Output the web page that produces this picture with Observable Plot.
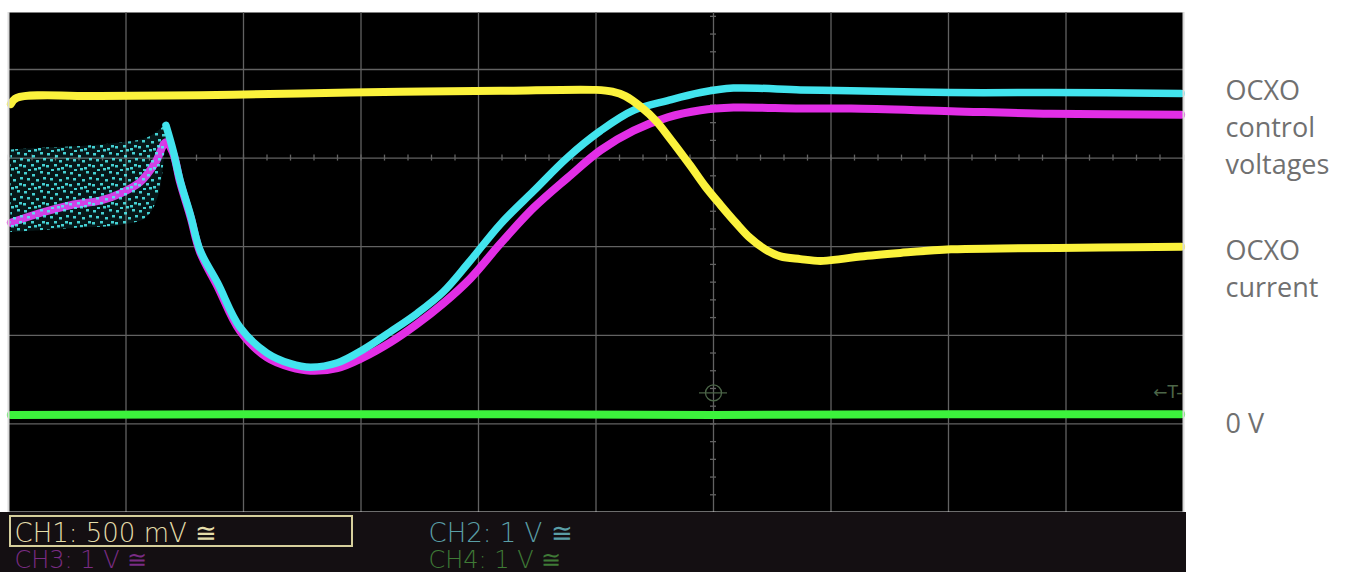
<!DOCTYPE html>
<html>
<head>
<meta charset="utf-8">
<script src="https://cdn.jsdelivr.net/npm/d3@7"></script>
<script src="https://cdn.jsdelivr.net/npm/@observablehq/plot@0.6"></script>
<style>
  html, body { margin: 0; padding: 0; background: #fff; }
  #chart svg { display: block; }
</style>
</head>
<body>
<div id="chart"></div>
<script>
// ---- Data (x in horizontal divisions, y in vertical divisions from the bottom of the screen) ----
const ch1Time  = [0.02, 0.07, 0.78, 1.63, 2.48, 3.34, 4.19, 5.00, 5.14, 5.25, 5.38, 5.51, 5.63, 5.80, 5.93, 6.06, 6.19, 6.31, 6.44, 6.57, 6.74, 6.91, 7.08, 7.25, 7.59, 8.02, 8.44, 9.29, 9.98];
const ch1Level = [4.61, 4.68, 4.70, 4.71, 4.73, 4.75, 4.76, 4.77, 4.75, 4.70, 4.58, 4.42, 4.22, 3.92, 3.68, 3.47, 3.27, 3.10, 2.97, 2.89, 2.86, 2.84, 2.86, 2.89, 2.93, 2.97, 2.98, 2.99, 3.00];

// CH2 (cyan): noisy band before the peak
const ch2NoiseTime  = [0.02, 0.27, 0.61, 0.95, 1.17, 1.28, 1.34];
const ch2NoiseLow   = [3.16, 3.18, 3.21, 3.24, 3.32, 3.58, 4.26];
const ch2NoiseHigh  = [4.09, 4.11, 4.13, 4.17, 4.22, 4.31, 4.37];
// CH2 (cyan): trace after the peak
const ch2Time  = [1.34, 1.40, 1.46, 1.55, 1.63, 1.78, 1.97, 2.20, 2.40, 2.57, 2.80, 3.02, 3.25, 3.48, 3.70, 3.91, 4.19, 4.47, 4.76, 5.04, 5.32, 5.61, 5.89, 6.17, 6.74, 7.17, 8.02, 8.87, 9.98];
const ch2Level = [4.37, 4.09, 3.75, 3.35, 2.96, 2.59, 2.09, 1.80, 1.68, 1.64, 1.69, 1.84, 2.04, 2.25, 2.49, 2.81, 3.26, 3.63, 4.01, 4.31, 4.54, 4.65, 4.74, 4.79, 4.77, 4.76, 4.74, 4.74, 4.73];

// CH3 (magenta)
const ch3Time  = [0.02, 0.27, 0.53, 0.78, 0.95, 1.12, 1.25, 1.34, 1.40, 1.46, 1.55, 1.63, 1.78, 1.97, 2.20, 2.40, 2.57, 2.80, 3.02, 3.25, 3.48, 3.70, 3.93, 4.19, 4.47, 4.76, 5.04, 5.32, 5.61, 5.89, 6.17, 6.74, 7.17, 8.02, 8.87, 9.98];
const ch3Level = [3.27, 3.38, 3.47, 3.52, 3.60, 3.73, 3.95, 4.18, 4.06, 3.73, 3.33, 2.94, 2.55, 2.05, 1.75, 1.64, 1.60, 1.63, 1.75, 1.92, 2.13, 2.36, 2.64, 3.04, 3.44, 3.78, 4.09, 4.31, 4.46, 4.54, 4.57, 4.56, 4.56, 4.53, 4.50, 4.49];

// CH4 (green): 0 V reference
const ch4Time  = [0.02, 2.0, 4.0, 6.0, 8.0, 9.98];
const ch4Level = [1.10, 1.11, 1.11, 1.10, 1.11, 1.11];

const triggerTime = 6;
const triggerLevel = 1.35;

// Screen graticule
const gridX = [1, 2, 3, 4, 5, 6, 7, 8, 9];
const gridY = [1, 2, 3, 4, 5];
const centerX = 6;
const centerY = 4;

// Text
const sideLabels = ["OCXO\ncontrol\nvoltages", "OCXO\ncurrent", "0 V"];
const channelLabels = ["CH1: 500 mV ≅", "CH2: 1 V ≅", "CH3: 1 V ≅", "CH4: 1 V ≅"];

// ---- Build ----
const pts = (xs, ys) => xs.map((x, i) => ({x, y: ys[i]}));
const ch1 = pts(ch1Time, ch1Level);
const ch2 = pts(ch2Time, ch2Level);
const ch3 = pts(ch3Time, ch3Level);
const ch4 = pts(ch4Time, ch4Level);
const ch2Noise = ch2NoiseTime.map((x, i) => ({x, lo: ch2NoiseLow[i], hi: ch2NoiseHigh[i]}));
const minorX = d3.range(0, 10.001, 0.2);
const minorY = d3.range(0, 5.64, 0.2);

const grid = "#626262";
const dim = "#4c6648";

// speckle pattern used to render the noisy (sampled) part of CH2
function speckleDefs() {
  const defs = d3.create("svg:defs");
  const p = defs.append("pattern")
    .attr("id", "ch2speckle")
    .attr("patternUnits", "userSpaceOnUse")
    .attr("width", 23).attr("height", 19);
  const cells = [[1,1],[9,3],[17,0],[4,7],[13,8],[20,6],[0,13],[8,12],[15,15],[19,12],[5,17],[11,16]];
  for (const [cx, cy] of cells) {
    p.append("rect").attr("x", cx).attr("y", cy).attr("width", 3).attr("height", 2.5).attr("fill", "#4ff0f2");
  }
  return defs.node();
}

function bottomStrip(index, scales, values, dims) {
  const g = d3.create("svg:g");
  const top = dims.height - dims.marginBottom;
  g.append("rect")
    .attr("x", 0).attr("y", top)
    .attr("width", dims.width - dims.marginRight + 3)
    .attr("height", dims.marginBottom)
    .attr("fill", "#140f12");
  g.append("rect")
    .attr("x", dims.marginLeft + 2).attr("y", top + 4)
    .attr("width", 342).attr("height", 30)
    .attr("fill", "none")
    .attr("stroke", "#d6cf9c")
    .attr("stroke-width", 2);
  return g.node();
}

const chart = Plot.plot({
  width: 1351,
  height: 572,
  marginLeft: 8,
  marginRight: 168,
  marginTop: 12,
  marginBottom: 60,
  x: {domain: [0, 10], axis: null},
  y: {domain: [0, 500 / 88.6], axis: null},
  style: {background: "#fff", overflow: "hidden"},
  marks: [
    speckleDefs,
    Plot.frame({fill: "#000", stroke: "none"}),
    Plot.ruleX(gridX, {stroke: grid, strokeWidth: 1.3}),
    Plot.ruleY(gridY, {stroke: grid, strokeWidth: 1.3}),
    Plot.ruleX(minorX, {y1: centerY, y2: centerY, insetTop: -3, insetBottom: -3, stroke: grid, strokeWidth: 1.3}),
    Plot.ruleY(minorY, {x1: centerX, x2: centerX, insetLeft: -3, insetRight: -3, stroke: grid, strokeWidth: 1.3}),
    // trigger marks
    Plot.dot([0], {x: triggerTime, y: triggerLevel, r: 8, stroke: dim, strokeWidth: 1.3, fill: "none"}),
    Plot.ruleY([triggerLevel], {x1: triggerTime, x2: triggerTime, insetLeft: -14, insetRight: -14, stroke: dim, strokeWidth: 1.2}),
    Plot.text(["←T-"], {x: 10, y: triggerLevel, text: d => d, textAnchor: "end", dx: -1, fill: dim, fontSize: 17, fontFamily: "DejaVu Sans"}),
    // traces
    Plot.line(ch4, {x: "x", y: "y", stroke: "#3cf23c", strokeWidth: 8}),
    Plot.line(ch3, {x: "x", y: "y", stroke: "#e22ee6", strokeWidth: 8, curve: "catmull-rom"}),
    Plot.areaY(ch2Noise, {x: "x", y1: "lo", y2: "hi", fill: "#3fe0e8", fillOpacity: 0.1, curve: "catmull-rom"}),
    Plot.areaY(ch2Noise, {x: "x", y1: "lo", y2: "hi", fill: "url(#ch2speckle)", fillOpacity: 0.85, curve: "catmull-rom"}),
    Plot.line(ch2, {x: "x", y: "y", stroke: "#42e4ee", strokeWidth: 7.5, curve: "catmull-rom"}),
    Plot.line(ch1, {x: "x", y: "y", stroke: "#fbf23c", strokeWidth: 8, curve: "catmull-rom"}),
    // screen border (left, right, bottom)
    Plot.ruleX([0, 10], {stroke: "#d9d9d9", strokeWidth: 2}),
    Plot.ruleY([0], {stroke: "#d9d9d9", strokeWidth: 2}),
    // bottom channel strip
    bottomStrip,
    Plot.text([channelLabels[0]], {frameAnchor: "bottom-left", text: d => d, dx: 6, dy: 29, lineAnchor: "bottom", textAnchor: "start", fill: "#e4ddaa", fontSize: 26, fontFamily: "DejaVu Sans", fontWeight: 200}),
    Plot.text([channelLabels[1]], {frameAnchor: "bottom-left", text: d => d, dx: 420, dy: 29, lineAnchor: "bottom", textAnchor: "start", fill: "#5a9ea6", fontSize: 26, fontFamily: "DejaVu Sans", fontWeight: 200}),
    Plot.text([channelLabels[2]], {frameAnchor: "bottom-left", text: d => d, dx: 6, dy: 55, lineAnchor: "bottom", textAnchor: "start", fill: "#7a2c84", fontSize: 24, fontFamily: "DejaVu Sans", fontWeight: 200}),
    Plot.text([channelLabels[3]], {frameAnchor: "bottom-left", text: d => d, dx: 420, dy: 55, lineAnchor: "bottom", textAnchor: "start", fill: "#3f7a36", fontSize: 24, fontFamily: "DejaVu Sans", fontWeight: 200}),
    // right-hand annotations
    Plot.text([sideLabels[0]], {frameAnchor: "top-right", text: d => d, dx: 42, dy: 60.8, lineAnchor: "top", textAnchor: "start", lineHeight: 1.37, fill: "#707070", fontSize: 27, fontFamily: "Open Sans"}),
    Plot.text([sideLabels[1]], {frameAnchor: "top-right", text: d => d, dx: 42, dy: 220.8, lineAnchor: "top", textAnchor: "start", lineHeight: 1.37, fill: "#707070", fontSize: 27, fontFamily: "Open Sans"}),
    Plot.text([sideLabels[2]], {frameAnchor: "top-right", text: d => d, dx: 42, dy: 401.8, lineAnchor: "top", textAnchor: "start", fill: "#707070", fontSize: 27, fontFamily: "Open Sans"})
  ]
});
document.getElementById("chart").appendChild(chart);
</script>
</body>
</html>
